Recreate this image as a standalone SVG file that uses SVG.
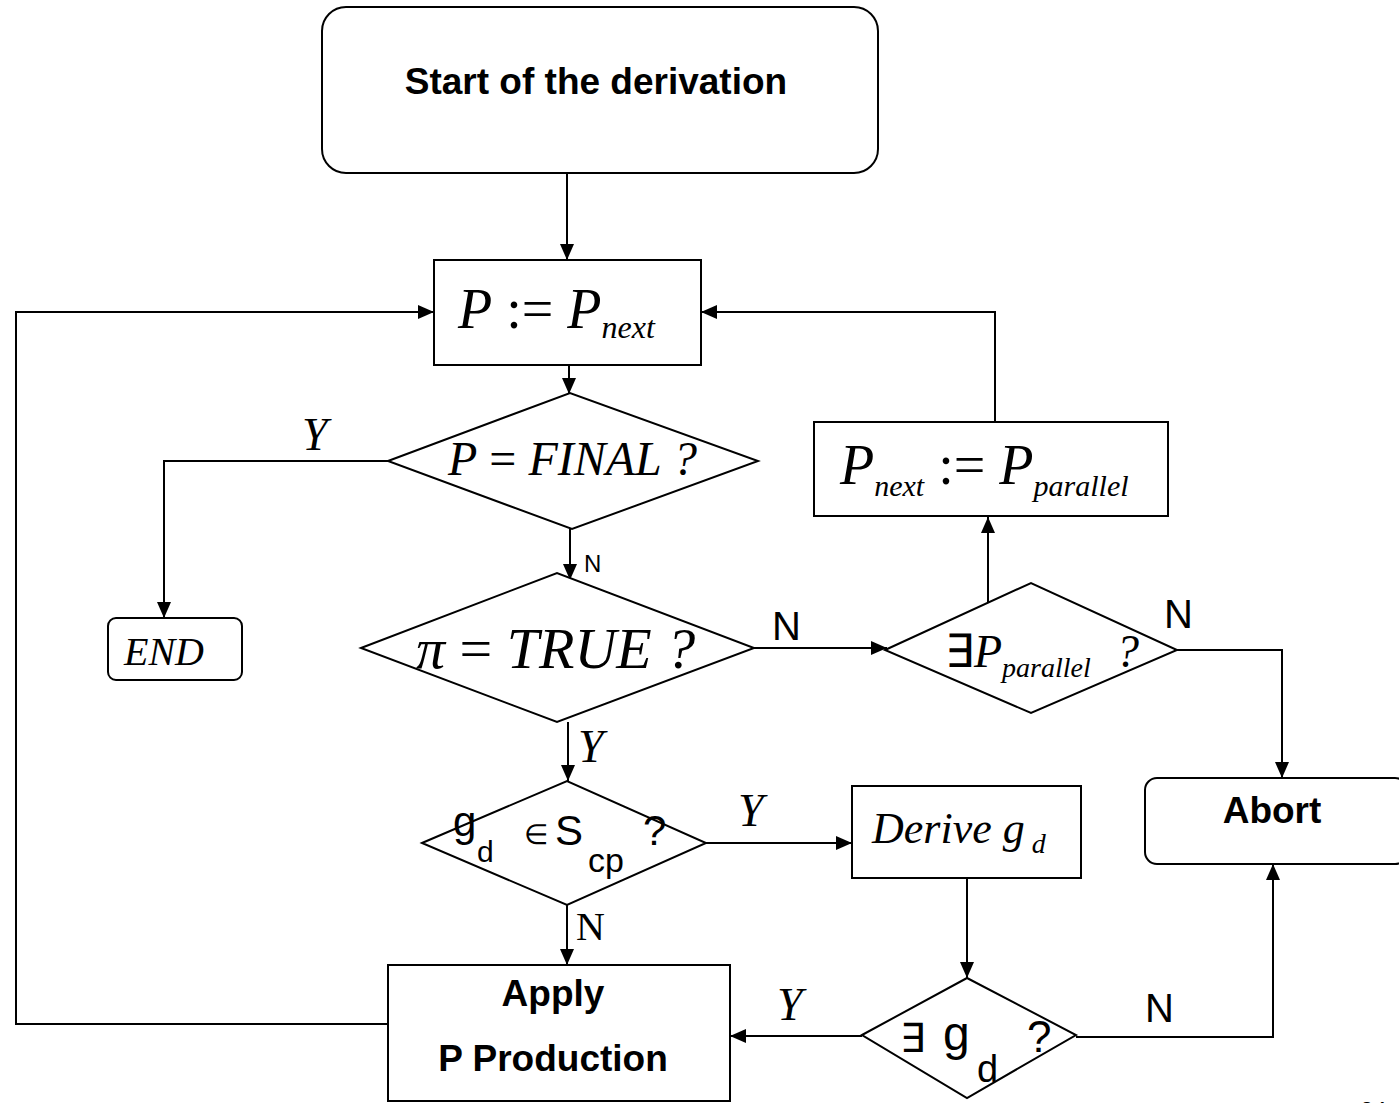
<svg xmlns="http://www.w3.org/2000/svg" width="1399" height="1103" viewBox="0 0 1399 1103">
<defs>
<marker id="arr" markerWidth="16" markerHeight="14" viewBox="0 0 16 14" refX="16" refY="7" orient="auto" markerUnits="userSpaceOnUse">
<path d="M0,0 L16,7 L0,14 z" fill="#000"/>
</marker>
<style>
.shape{fill:#fff;stroke:#000;stroke-width:2}
.line{fill:none;stroke:#000;stroke-width:2}
.sansb{font-family:"Liberation Sans",Arial,sans-serif;font-weight:bold;fill:#000}
.sans{font-family:"Liberation Sans",Arial,sans-serif;fill:#000}
.serif{font-family:"Liberation Serif","Times New Roman",serif;font-style:italic;fill:#000}
.serifr{font-family:"Liberation Serif","Times New Roman",serif;fill:#000}
</style>
</defs>
<rect width="1399" height="1103" fill="#fff"/>
<g id="connectors">
<line class="line" x1="567" y1="173" x2="567" y2="260" marker-end="url(#arr)"/>
<polyline class="line" points="388,1024 16,1024 16,312 434,312" marker-end="url(#arr)"/>
<polyline class="line" points="995,422 995,312 701,312" marker-end="url(#arr)"/>
<line class="line" x1="569" y1="365" x2="569" y2="394" marker-end="url(#arr)"/>
<polyline class="line" points="388,461 164,461 164,618" marker-end="url(#arr)"/>
<line class="line" x1="570" y1="529" x2="570" y2="580" marker-end="url(#arr)"/>
<line class="line" x1="754" y1="648" x2="887" y2="648" marker-end="url(#arr)"/>
<line class="line" x1="988" y1="602" x2="988" y2="517" marker-end="url(#arr)"/>
<polyline class="line" points="1177,650 1282,650 1282,778" marker-end="url(#arr)"/>
<line class="line" x1="568" y1="722" x2="568" y2="781" marker-end="url(#arr)"/>
<line class="line" x1="706" y1="843" x2="852" y2="843" marker-end="url(#arr)"/>
<line class="line" x1="567" y1="905" x2="567" y2="965" marker-end="url(#arr)"/>
<line class="line" x1="967" y1="878" x2="967" y2="978" marker-end="url(#arr)"/>
<line class="line" x1="862" y1="1036" x2="730" y2="1036" marker-end="url(#arr)"/>
<polyline class="line" points="1076,1037 1273,1037 1273,864" marker-end="url(#arr)"/>
<text class="serif" x="302" y="450" font-size="46">Y</text>
<text class="sans" x="584" y="572" font-size="24">N</text>
<text class="sans" x="772" y="640" font-size="40">N</text>
<text class="sans" x="1164" y="628" font-size="40">N</text>
<text class="serif" x="578" y="762" font-size="46">Y</text>
<text class="serif" x="738" y="826" font-size="46">Y</text>
<text class="serifr" x="576" y="940" font-size="40">N</text>
<text class="serif" x="777" y="1020" font-size="46">Y</text>
<text class="sans" x="1145" y="1022" font-size="40">N</text>
</g>
<g id="start">
<rect class="shape" x="322" y="7" width="556" height="166" rx="24"/>
<text class="sansb" x="596" y="94" font-size="37" text-anchor="middle">Start of the derivation</text>
</g>
<g id="assign">
<rect class="shape" x="434" y="260" width="267" height="105"/>
<text class="serif" x="458" y="328" font-size="56">P<tspan font-style="normal"> := </tspan>P<tspan font-size="32" dy="10">next</tspan></text>
</g>
<g id="final">
<polygon class="shape" points="388,461 570,393 758,461 572,529"/>
<text class="serif" x="448" y="475" font-size="48">P<tspan font-style="normal"> = </tspan>FINAL ?</text>
</g>
<g id="end">
<rect class="shape" x="108" y="618" width="134" height="62" rx="8"/>
<text class="serif" x="124" y="665" font-size="40">END</text>
</g>
<g id="true">
<polygon class="shape" points="361,648 557,573 754,648 557,722"/>
<text class="serif" x="416" y="668" font-size="58">π<tspan font-style="normal"> = </tspan>TRUE ?</text>
</g>
<g id="pnext">
<rect class="shape" x="814" y="422" width="354" height="94"/>
<text class="serif" x="840" y="484" font-size="56">P<tspan font-size="30" dy="12">next</tspan><tspan font-style="normal" dy="-12"> := </tspan>P<tspan font-size="30" dy="12">parallel</tspan></text>
</g>
<g id="exists">
<polygon class="shape" points="885,650 1031,583 1177,650 1031,713"/>
<text class="serif" x="945" y="667" font-size="46"><tspan font-style="normal">∃</tspan>P<tspan font-size="28" dy="10">parallel</tspan></text>
<text class="serif" x="1116" y="667" font-size="46">?</text>
</g>
<g id="abort">
<rect class="shape" x="1145" y="778" width="262" height="86" rx="12"/>
<text class="sansb" x="1272" y="823" font-size="37" text-anchor="middle">Abort</text>
</g>
<g id="scp">
<polygon class="shape" points="422,843 567,781 706,843 567,905"/>
<text class="sans" x="453" y="836" font-size="42">g</text>
<text class="sans" x="477" y="862" font-size="30">d</text>
<text class="sans" x="524" y="844" font-size="28">∈</text>
<text class="sans" x="555" y="845" font-size="42">S</text>
<text class="sans" x="588" y="872" font-size="34">cp</text>
<text class="sans" x="643" y="845" font-size="42">?</text>
</g>
<g id="derive">
<rect class="shape" x="852" y="786" width="229" height="92"/>
<text class="serif" x="872" y="843" font-size="44">Derive g<tspan font-size="28" dy="10"> d</tspan></text>
</g>
<g id="existsgd">
<polygon class="shape" points="862,1035 967,978 1076,1035 967,1098"/>
<text class="sans" x="900" y="1052" font-size="40">∃</text>
<text class="sans" x="943" y="1050" font-size="48">g</text>
<text class="sans" x="977" y="1082" font-size="38">d</text>
<text class="sans" x="1027" y="1052" font-size="44">?</text>
</g>
<g id="apply">
<rect class="shape" x="388" y="965" width="342" height="136"/>
<text class="sansb" x="553" y="1006" font-size="37" text-anchor="middle">Apply</text>
<text class="sansb" x="553" y="1071" font-size="37" text-anchor="middle">P Production</text>
</g>
<text class="sans" x="1360" y="1119" font-size="24">24</text>
</svg>
